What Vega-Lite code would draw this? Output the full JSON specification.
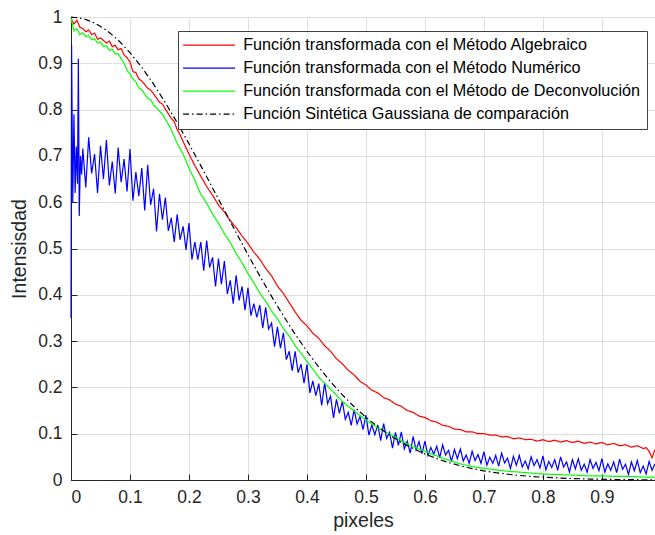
{
  "$schema": "https://vega.github.io/schema/vega-lite/v6.json",
  "width": 584,
  "height": 463,
  "autosize": "none",
  "padding": {"left": 71, "top": 17, "right": 0, "bottom": 55},
  "background": "white",
  "config": {
    "view": {"stroke": null},
    "font": "Liberation Sans",
    "axis": {
      "labelFont": "Liberation Sans",
      "titleFont": "Liberation Sans",
      "labelFontSize": 17.5,
      "titleFontSize": 19.5,
      "titleFontWeight": "normal",
      "labelColor": "#262626",
      "titleColor": "#262626",
      "domainColor": "#262626",
      "domainWidth": 1,
      "tickColor": "#262626",
      "tickSize": -6,
      "gridColor": "#dedede",
      "gridWidth": 1
    },
    "legend": {
      "orient": "none", "legendX": 107, "legendY": 14, "title": null,
      "symbolType": "M-4,0H4", "symbolSize": 169, "symbolStrokeWidth": 1.2, "symbolOffset": 17,
      "labelFont": "Liberation Sans", "labelFontSize": 16.2, "labelColor": "#000000", "labelLimit": 0, "labelOffset": 26,
      "strokeColor": "#404040", "fillColor": "white", "padding": 6, "rowPadding": 6
    }
  },
  "data": {
    "values": [
      {"x":0,"y":0.997,"s":"A"},{"x":0.005,"y":0.985,"s":"A"},{"x":0.01,"y":0.993,"s":"A"},{"x":0.015,"y":0.978,"s":"A"},{"x":0.02,"y":0.975,"s":"A"},{"x":0.025,"y":0.968,"s":"A"},{"x":0.03,"y":0.972,"s":"A"},{"x":0.035,"y":0.962,"s":"A"},{"x":0.04,"y":0.965,"s":"A"},{"x":0.045,"y":0.952,"s":"A"},{"x":0.05,"y":0.955,"s":"A"},{"x":0.06,"y":0.944,"s":"A"},{"x":0.065,"y":0.948,"s":"A"},{"x":0.07,"y":0.936,"s":"A"},{"x":0.075,"y":0.939,"s":"A"},{"x":0.08,"y":0.929,"s":"A"},{"x":0.085,"y":0.932,"s":"A"},{"x":0.09,"y":0.918,"s":"A"},{"x":0.095,"y":0.912,"s":"A"},{"x":0.1,"y":0.903,"s":"A"},{"x":0.105,"y":0.882,"s":"A"},{"x":0.11,"y":0.88,"s":"A"},{"x":0.115,"y":0.866,"s":"A"},{"x":0.12,"y":0.862,"s":"A"},{"x":0.13,"y":0.846,"s":"A"},{"x":0.135,"y":0.842,"s":"A"},{"x":0.14,"y":0.834,"s":"A"},{"x":0.15,"y":0.816,"s":"A"},{"x":0.155,"y":0.812,"s":"A"},{"x":0.16,"y":0.801,"s":"A"},{"x":0.17,"y":0.781,"s":"A"},{"x":0.175,"y":0.774,"s":"A"},{"x":0.18,"y":0.757,"s":"A"},{"x":0.185,"y":0.745,"s":"A"},{"x":0.19,"y":0.731,"s":"A"},{"x":0.2,"y":0.704,"s":"A"},{"x":0.21,"y":0.679,"s":"A"},{"x":0.22,"y":0.656,"s":"A"},{"x":0.23,"y":0.634,"s":"A"},{"x":0.24,"y":0.615,"s":"A"},{"x":0.25,"y":0.594,"s":"A"},{"x":0.26,"y":0.579,"s":"A"},{"x":0.27,"y":0.56,"s":"A"},{"x":0.28,"y":0.545,"s":"A"},{"x":0.29,"y":0.527,"s":"A"},{"x":0.3,"y":0.511,"s":"A"},{"x":0.31,"y":0.492,"s":"A"},{"x":0.32,"y":0.477,"s":"A"},{"x":0.33,"y":0.457,"s":"A"},{"x":0.34,"y":0.441,"s":"A"},{"x":0.35,"y":0.419,"s":"A"},{"x":0.36,"y":0.403,"s":"A"},{"x":0.37,"y":0.383,"s":"A"},{"x":0.38,"y":0.363,"s":"A"},{"x":0.39,"y":0.345,"s":"A"},{"x":0.4,"y":0.333,"s":"A"},{"x":0.41,"y":0.317,"s":"A"},{"x":0.42,"y":0.306,"s":"A"},{"x":0.43,"y":0.29,"s":"A"},{"x":0.44,"y":0.278,"s":"A"},{"x":0.45,"y":0.262,"s":"A"},{"x":0.46,"y":0.251,"s":"A"},{"x":0.47,"y":0.237,"s":"A"},{"x":0.48,"y":0.227,"s":"A"},{"x":0.49,"y":0.213,"s":"A"},{"x":0.5,"y":0.205,"s":"A"},{"x":0.51,"y":0.194,"s":"A"},{"x":0.52,"y":0.188,"s":"A"},{"x":0.53,"y":0.178,"s":"A"},{"x":0.54,"y":0.173,"s":"A"},{"x":0.55,"y":0.164,"s":"A"},{"x":0.56,"y":0.159,"s":"A"},{"x":0.57,"y":0.15,"s":"A"},{"x":0.58,"y":0.146,"s":"A"},{"x":0.59,"y":0.138,"s":"A"},{"x":0.6,"y":0.135,"s":"A"},{"x":0.61,"y":0.128,"s":"A"},{"x":0.62,"y":0.125,"s":"A"},{"x":0.63,"y":0.118,"s":"A"},{"x":0.64,"y":0.116,"s":"A"},{"x":0.65,"y":0.11,"s":"A"},{"x":0.66,"y":0.109,"s":"A"},{"x":0.67,"y":0.104,"s":"A"},{"x":0.68,"y":0.104,"s":"A"},{"x":0.69,"y":0.1,"s":"A"},{"x":0.7,"y":0.1,"s":"A"},{"x":0.71,"y":0.097,"s":"A"},{"x":0.72,"y":0.097,"s":"A"},{"x":0.73,"y":0.093,"s":"A"},{"x":0.74,"y":0.094,"s":"A"},{"x":0.75,"y":0.089,"s":"A"},{"x":0.76,"y":0.091,"s":"A"},{"x":0.77,"y":0.087,"s":"A"},{"x":0.78,"y":0.088,"s":"A"},{"x":0.79,"y":0.084,"s":"A"},{"x":0.8,"y":0.087,"s":"A"},{"x":0.81,"y":0.083,"s":"A"},{"x":0.82,"y":0.086,"s":"A"},{"x":0.83,"y":0.082,"s":"A"},{"x":0.84,"y":0.085,"s":"A"},{"x":0.85,"y":0.081,"s":"A"},{"x":0.86,"y":0.084,"s":"A"},{"x":0.87,"y":0.079,"s":"A"},{"x":0.88,"y":0.082,"s":"A"},{"x":0.89,"y":0.078,"s":"A"},{"x":0.9,"y":0.081,"s":"A"},{"x":0.91,"y":0.076,"s":"A"},{"x":0.92,"y":0.079,"s":"A"},{"x":0.93,"y":0.074,"s":"A"},{"x":0.94,"y":0.076,"s":"A"},{"x":0.95,"y":0.071,"s":"A"},{"x":0.96,"y":0.074,"s":"A"},{"x":0.97,"y":0.068,"s":"A"},{"x":0.975,"y":0.07,"s":"A"},{"x":0.98,"y":0.062,"s":"A"},{"x":0.985,"y":0.048,"s":"A"},{"x":0.99,"y":0.066,"s":"A"},

      {"x":0,"y":0.35,"s":"N"},{"x":0.001,"y":0.94,"s":"N"},{"x":0.003,"y":0.6,"s":"N"},{"x":0.005,"y":0.79,"s":"N"},{"x":0.007,"y":0.62,"s":"N"},{"x":0.009,"y":0.72,"s":"N"},{"x":0.011,"y":0.64,"s":"N"},{"x":0.0125,"y":0.91,"s":"N"},{"x":0.014,"y":0.57,"s":"N"},{"x":0.016,"y":0.7,"s":"N"},{"x":0.018,"y":0.66,"s":"N"},
      {"x":0.02,"y":0.716,"s":"N"},{"x":0.025,"y":0.632,"s":"N"},{"x":0.03,"y":0.74,"s":"N"},{"x":0.035,"y":0.662,"s":"N"},{"x":0.04,"y":0.704,"s":"N"},{"x":0.045,"y":0.62,"s":"N"},{"x":0.05,"y":0.722,"s":"N"},{"x":0.055,"y":0.65,"s":"N"},{"x":0.06,"y":0.734,"s":"N"},{"x":0.065,"y":0.636,"s":"N"},{"x":0.07,"y":0.688,"s":"N"},{"x":0.075,"y":0.619,"s":"N"},{"x":0.08,"y":0.718,"s":"N"},{"x":0.085,"y":0.643,"s":"N"},{"x":0.09,"y":0.693,"s":"N"},{"x":0.095,"y":0.623,"s":"N"},{"x":0.1,"y":0.715,"s":"N"},{"x":0.105,"y":0.603,"s":"N"},{"x":0.11,"y":0.665,"s":"N"},{"x":0.115,"y":0.613,"s":"N"},{"x":0.12,"y":0.674,"s":"N"},{"x":0.125,"y":0.582,"s":"N"},{"x":0.13,"y":0.681,"s":"N"},{"x":0.135,"y":0.594,"s":"N"},{"x":0.14,"y":0.629,"s":"N"},{"x":0.145,"y":0.537,"s":"N"},{"x":0.15,"y":0.618,"s":"N"},{"x":0.155,"y":0.562,"s":"N"},{"x":0.16,"y":0.61,"s":"N"},{"x":0.165,"y":0.538,"s":"N"},{"x":0.17,"y":0.566,"s":"N"},{"x":0.175,"y":0.514,"s":"N"},{"x":0.18,"y":0.574,"s":"N"},{"x":0.185,"y":0.519,"s":"N"},{"x":0.19,"y":0.548,"s":"N"},{"x":0.195,"y":0.497,"s":"N"},{"x":0.2,"y":0.555,"s":"N"},{"x":0.205,"y":0.476,"s":"N"},{"x":0.21,"y":0.514,"s":"N"},{"x":0.215,"y":0.476,"s":"N"},{"x":0.22,"y":0.514,"s":"N"},{"x":0.225,"y":0.452,"s":"N"},{"x":0.23,"y":0.517,"s":"N"},{"x":0.235,"y":0.459,"s":"N"},{"x":0.24,"y":0.481,"s":"N"},{"x":0.245,"y":0.418,"s":"N"},{"x":0.25,"y":0.478,"s":"N"},{"x":0.255,"y":0.423,"s":"N"},{"x":0.26,"y":0.473,"s":"N"},{"x":0.265,"y":0.402,"s":"N"},{"x":0.27,"y":0.431,"s":"N"},{"x":0.275,"y":0.381,"s":"N"},{"x":0.28,"y":0.442,"s":"N"},{"x":0.285,"y":0.388,"s":"N"},{"x":0.29,"y":0.418,"s":"N"},{"x":0.295,"y":0.367,"s":"N"},{"x":0.3,"y":0.415,"s":"N"},{"x":0.305,"y":0.355,"s":"N"},{"x":0.31,"y":0.381,"s":"N"},{"x":0.315,"y":0.351,"s":"N"},{"x":0.32,"y":0.378,"s":"N"},{"x":0.325,"y":0.328,"s":"N"},{"x":0.33,"y":0.373,"s":"N"},{"x":0.335,"y":0.326,"s":"N"},{"x":0.34,"y":0.339,"s":"N"},{"x":0.345,"y":0.288,"s":"N"},{"x":0.35,"y":0.331,"s":"N"},{"x":0.355,"y":0.285,"s":"N"},{"x":0.36,"y":0.318,"s":"N"},{"x":0.365,"y":0.26,"s":"N"},{"x":0.37,"y":0.278,"s":"N"},{"x":0.375,"y":0.236,"s":"N"},{"x":0.38,"y":0.278,"s":"N"},{"x":0.385,"y":0.232,"s":"N"},{"x":0.39,"y":0.25,"s":"N"},{"x":0.395,"y":0.209,"s":"N"},{"x":0.4,"y":0.25,"s":"N"},{"x":0.405,"y":0.188,"s":"N"},{"x":0.41,"y":0.214,"s":"N"},{"x":0.415,"y":0.182,"s":"N"},{"x":0.42,"y":0.208,"s":"N"},{"x":0.425,"y":0.161,"s":"N"},{"x":0.43,"y":0.21,"s":"N"},{"x":0.435,"y":0.165,"s":"N"},{"x":0.44,"y":0.181,"s":"N"},{"x":0.445,"y":0.134,"s":"N"},{"x":0.45,"y":0.174,"s":"N"},{"x":0.455,"y":0.144,"s":"N"},{"x":0.46,"y":0.17,"s":"N"},{"x":0.465,"y":0.131,"s":"N"},{"x":0.47,"y":0.146,"s":"N"},{"x":0.475,"y":0.118,"s":"N"},{"x":0.48,"y":0.152,"s":"N"},{"x":0.485,"y":0.121,"s":"N"},{"x":0.49,"y":0.137,"s":"N"},{"x":0.495,"y":0.109,"s":"N"},{"x":0.5,"y":0.14,"s":"N"},{"x":0.505,"y":0.097,"s":"N"},{"x":0.51,"y":0.119,"s":"N"},{"x":0.515,"y":0.098,"s":"N"},{"x":0.52,"y":0.119,"s":"N"},{"x":0.525,"y":0.085,"s":"N"},{"x":0.53,"y":0.122,"s":"N"},{"x":0.535,"y":0.09,"s":"N"},{"x":0.54,"y":0.103,"s":"N"},{"x":0.545,"y":0.069,"s":"N"},{"x":0.55,"y":0.103,"s":"N"},{"x":0.555,"y":0.075,"s":"N"},{"x":0.56,"y":0.104,"s":"N"},{"x":0.565,"y":0.067,"s":"N"},{"x":0.57,"y":0.084,"s":"N"},{"x":0.575,"y":0.058,"s":"N"},{"x":0.58,"y":0.094,"s":"N"},{"x":0.585,"y":0.065,"s":"N"},{"x":0.59,"y":0.083,"s":"N"},{"x":0.595,"y":0.057,"s":"N"},{"x":0.6,"y":0.084,"s":"N"},{"x":0.605,"y":0.053,"s":"N"},{"x":0.61,"y":0.07,"s":"N"},{"x":0.615,"y":0.056,"s":"N"},{"x":0.62,"y":0.073,"s":"N"},{"x":0.625,"y":0.048,"s":"N"},{"x":0.63,"y":0.076,"s":"N"},{"x":0.635,"y":0.054,"s":"N"},{"x":0.64,"y":0.064,"s":"N"},{"x":0.645,"y":0.04,"s":"N"},{"x":0.65,"y":0.066,"s":"N"},{"x":0.655,"y":0.046,"s":"N"},{"x":0.66,"y":0.067,"s":"N"},{"x":0.665,"y":0.041,"s":"N"},{"x":0.67,"y":0.054,"s":"N"},{"x":0.675,"y":0.036,"s":"N"},{"x":0.68,"y":0.062,"s":"N"},{"x":0.685,"y":0.042,"s":"N"},{"x":0.69,"y":0.055,"s":"N"},{"x":0.695,"y":0.036,"s":"N"},{"x":0.7,"y":0.061,"s":"N"},{"x":0.705,"y":0.032,"s":"N"},{"x":0.71,"y":0.049,"s":"N"},{"x":0.715,"y":0.036,"s":"N"},{"x":0.72,"y":0.053,"s":"N"},{"x":0.725,"y":0.03,"s":"N"},{"x":0.73,"y":0.058,"s":"N"},{"x":0.735,"y":0.037,"s":"N"},{"x":0.74,"y":0.047,"s":"N"},{"x":0.745,"y":0.025,"s":"N"},{"x":0.75,"y":0.051,"s":"N"},{"x":0.755,"y":0.032,"s":"N"},{"x":0.76,"y":0.053,"s":"N"},{"x":0.765,"y":0.028,"s":"N"},{"x":0.77,"y":0.041,"s":"N"},{"x":0.775,"y":0.024,"s":"N"},{"x":0.78,"y":0.05,"s":"N"},{"x":0.785,"y":0.031,"s":"N"},{"x":0.79,"y":0.044,"s":"N"},{"x":0.795,"y":0.026,"s":"N"},{"x":0.8,"y":0.052,"s":"N"},{"x":0.805,"y":0.022,"s":"N"},{"x":0.81,"y":0.04,"s":"N"},{"x":0.815,"y":0.027,"s":"N"},{"x":0.82,"y":0.044,"s":"N"},{"x":0.825,"y":0.021,"s":"N"},{"x":0.83,"y":0.05,"s":"N"},{"x":0.835,"y":0.028,"s":"N"},{"x":0.84,"y":0.039,"s":"N"},{"x":0.845,"y":0.017,"s":"N"},{"x":0.85,"y":0.044,"s":"N"},{"x":0.855,"y":0.024,"s":"N"},{"x":0.86,"y":0.046,"s":"N"},{"x":0.865,"y":0.021,"s":"N"},{"x":0.87,"y":0.034,"s":"N"},{"x":0.875,"y":0.017,"s":"N"},{"x":0.88,"y":0.044,"s":"N"},{"x":0.885,"y":0.025,"s":"N"},{"x":0.89,"y":0.038,"s":"N"},{"x":0.895,"y":0.02,"s":"N"},{"x":0.9,"y":0.046,"s":"N"},{"x":0.905,"y":0.017,"s":"N"},{"x":0.91,"y":0.035,"s":"N"},{"x":0.915,"y":0.021,"s":"N"},{"x":0.92,"y":0.039,"s":"N"},{"x":0.925,"y":0.016,"s":"N"},{"x":0.93,"y":0.045,"s":"N"},{"x":0.935,"y":0.023,"s":"N"},{"x":0.94,"y":0.034,"s":"N"},{"x":0.945,"y":0.012,"s":"N"},{"x":0.95,"y":0.039,"s":"N"},{"x":0.955,"y":0.02,"s":"N"},{"x":0.96,"y":0.042,"s":"N"},{"x":0.965,"y":0.016,"s":"N"},{"x":0.97,"y":0.03,"s":"N"},{"x":0.975,"y":0.013,"s":"N"},{"x":0.98,"y":0.04,"s":"N"},{"x":0.985,"y":0.021,"s":"N"},{"x":0.99,"y":0.035,"s":"N"},

      {"x":0,"y":0.998,"s":"D"},{"x":0.005,"y":0.97,"s":"D"},{"x":0.01,"y":0.975,"s":"D"},{"x":0.015,"y":0.962,"s":"D"},{"x":0.02,"y":0.966,"s":"D"},{"x":0.025,"y":0.958,"s":"D"},{"x":0.03,"y":0.96,"s":"D"},{"x":0.035,"y":0.951,"s":"D"},{"x":0.04,"y":0.953,"s":"D"},{"x":0.045,"y":0.944,"s":"D"},{"x":0.05,"y":0.946,"s":"D"},{"x":0.055,"y":0.936,"s":"D"},{"x":0.06,"y":0.938,"s":"D"},{"x":0.065,"y":0.928,"s":"D"},{"x":0.07,"y":0.93,"s":"D"},{"x":0.075,"y":0.92,"s":"D"},{"x":0.08,"y":0.921,"s":"D"},{"x":0.085,"y":0.91,"s":"D"},{"x":0.09,"y":0.9,"s":"D"},{"x":0.095,"y":0.885,"s":"D"},{"x":0.1,"y":0.877,"s":"D"},{"x":0.105,"y":0.866,"s":"D"},{"x":0.11,"y":0.86,"s":"D"},{"x":0.115,"y":0.847,"s":"D"},{"x":0.12,"y":0.843,"s":"D"},{"x":0.13,"y":0.824,"s":"D"},{"x":0.135,"y":0.822,"s":"D"},{"x":0.14,"y":0.81,"s":"D"},{"x":0.15,"y":0.797,"s":"D"},{"x":0.155,"y":0.79,"s":"D"},{"x":0.16,"y":0.779,"s":"D"},{"x":0.17,"y":0.757,"s":"D"},{"x":0.18,"y":0.727,"s":"D"},{"x":0.19,"y":0.704,"s":"D"},{"x":0.2,"y":0.674,"s":"D"},{"x":0.21,"y":0.647,"s":"D"},{"x":0.22,"y":0.617,"s":"D"},{"x":0.23,"y":0.598,"s":"D"},{"x":0.24,"y":0.574,"s":"D"},{"x":0.25,"y":0.555,"s":"D"},{"x":0.26,"y":0.532,"s":"D"},{"x":0.27,"y":0.513,"s":"D"},{"x":0.28,"y":0.489,"s":"D"},{"x":0.29,"y":0.469,"s":"D"},{"x":0.3,"y":0.446,"s":"D"},{"x":0.31,"y":0.426,"s":"D"},{"x":0.32,"y":0.404,"s":"D"},{"x":0.33,"y":0.386,"s":"D"},{"x":0.34,"y":0.365,"s":"D"},{"x":0.35,"y":0.348,"s":"D"},{"x":0.36,"y":0.327,"s":"D"},{"x":0.37,"y":0.311,"s":"D"},{"x":0.38,"y":0.29,"s":"D"},{"x":0.39,"y":0.274,"s":"D"},{"x":0.4,"y":0.256,"s":"D"},{"x":0.41,"y":0.239,"s":"D"},{"x":0.42,"y":0.222,"s":"D"},{"x":0.43,"y":0.209,"s":"D"},{"x":0.44,"y":0.196,"s":"D"},{"x":0.45,"y":0.183,"s":"D"},{"x":0.46,"y":0.17,"s":"D"},{"x":0.47,"y":0.159,"s":"D"},{"x":0.48,"y":0.149,"s":"D"},{"x":0.49,"y":0.139,"s":"D"},{"x":0.5,"y":0.13,"s":"D"},{"x":0.51,"y":0.121,"s":"D"},{"x":0.52,"y":0.113,"s":"D"},{"x":0.53,"y":0.106,"s":"D"},{"x":0.54,"y":0.099,"s":"D"},{"x":0.55,"y":0.092,"s":"D"},{"x":0.56,"y":0.085,"s":"D"},{"x":0.57,"y":0.078,"s":"D"},{"x":0.58,"y":0.072,"s":"D"},{"x":0.59,"y":0.067,"s":"D"},{"x":0.6,"y":0.062,"s":"D"},{"x":0.61,"y":0.057,"s":"D"},{"x":0.62,"y":0.052,"s":"D"},{"x":0.63,"y":0.047,"s":"D"},{"x":0.64,"y":0.043,"s":"D"},{"x":0.65,"y":0.039,"s":"D"},{"x":0.66,"y":0.035,"s":"D"},{"x":0.67,"y":0.032,"s":"D"},{"x":0.68,"y":0.029,"s":"D"},{"x":0.69,"y":0.027,"s":"D"},{"x":0.7,"y":0.025,"s":"D"},{"x":0.72,"y":0.022,"s":"D"},{"x":0.74,"y":0.019,"s":"D"},{"x":0.76,"y":0.017,"s":"D"},{"x":0.78,"y":0.015,"s":"D"},{"x":0.8,"y":0.013,"s":"D"},{"x":0.82,"y":0.012,"s":"D"},{"x":0.84,"y":0.011,"s":"D"},{"x":0.86,"y":0.01,"s":"D"},{"x":0.88,"y":0.009,"s":"D"},{"x":0.9,"y":0.009,"s":"D"},{"x":0.92,"y":0.008,"s":"D"},{"x":0.94,"y":0.008,"s":"D"},{"x":0.96,"y":0.007,"s":"D"},{"x":0.98,"y":0.006,"s":"D"},{"x":0.99,"y":0.006,"s":"D"},

      {"x":0,"y":1,"s":"G"},{"x":0.02,"y":0.9968,"s":"G"},{"x":0.04,"y":0.9873,"s":"G"},{"x":0.06,"y":0.9716,"s":"G"},{"x":0.08,"y":0.9501,"s":"G"},{"x":0.1,"y":0.9231,"s":"G"},{"x":0.12,"y":0.8912,"s":"G"},{"x":0.14,"y":0.8549,"s":"G"},{"x":0.16,"y":0.8148,"s":"G"},{"x":0.18,"y":0.7717,"s":"G"},{"x":0.2,"y":0.7261,"s":"G"},{"x":0.22,"y":0.679,"s":"G"},{"x":0.24,"y":0.6308,"s":"G"},{"x":0.26,"y":0.5823,"s":"G"},{"x":0.28,"y":0.5341,"s":"G"},{"x":0.3,"y":0.4868,"s":"G"},{"x":0.32,"y":0.4408,"s":"G"},{"x":0.34,"y":0.3966,"s":"G"},{"x":0.36,"y":0.3546,"s":"G"},{"x":0.38,"y":0.315,"s":"G"},{"x":0.4,"y":0.278,"s":"G"},{"x":0.42,"y":0.2439,"s":"G"},{"x":0.44,"y":0.2125,"s":"G"},{"x":0.46,"y":0.184,"s":"G"},{"x":0.48,"y":0.1583,"s":"G"},{"x":0.5,"y":0.1353,"s":"G"},{"x":0.52,"y":0.115,"s":"G"},{"x":0.54,"y":0.097,"s":"G"},{"x":0.56,"y":0.0814,"s":"G"},{"x":0.58,"y":0.0678,"s":"G"},{"x":0.6,"y":0.0561,"s":"G"},{"x":0.62,"y":0.0462,"s":"G"},{"x":0.64,"y":0.0377,"s":"G"},{"x":0.66,"y":0.0307,"s":"G"},{"x":0.68,"y":0.0247,"s":"G"},{"x":0.7,"y":0.0198,"s":"G"},{"x":0.72,"y":0.0158,"s":"G"},{"x":0.74,"y":0.0125,"s":"G"},{"x":0.76,"y":0.0098,"s":"G"},{"x":0.78,"y":0.0077,"s":"G"},{"x":0.8,"y":0.006,"s":"G"},{"x":0.84,"y":0.0035,"s":"G"},{"x":0.88,"y":0.002,"s":"G"},{"x":0.92,"y":0.0011,"s":"G"},{"x":0.96,"y":0.0006,"s":"G"},{"x":0.99,"y":0.0004,"s":"G"}
    ]
  },
  "mark": {"type": "line", "strokeWidth": 1.2, "clip": false},
  "encoding": {
    "x": {
      "field": "x", "type": "quantitative",
      "scale": {"domain": [0, 0.99], "nice": false, "zero": false},
      "axis": {"values": [0, 0.1, 0.2, 0.3, 0.4, 0.5, 0.6, 0.7, 0.8, 0.9], "format": "~g", "title": "pixeles", "labelPadding": 14, "titlePadding": 6, "grid": true}
    },
    "y": {
      "field": "y", "type": "quantitative",
      "scale": {"domain": [0, 1], "nice": false},
      "axis": {"values": [0, 0.1, 0.2, 0.3, 0.4, 0.5, 0.6, 0.7, 0.8, 0.9, 1], "format": "~g", "title": "Intensisdad", "labelPadding": 15, "titlePadding": 8, "grid": true}
    },
    "color": {
      "field": "s", "type": "nominal",
      "scale": {"domain": ["A", "N", "D", "G"], "range": ["#ff0000", "#0000ff", "#00ff00", "#000000"]},
      "legend": {
        "labelExpr": "datum.label == 'A' ? 'Función transformada con el Método Algebraico' : datum.label == 'N' ? 'Función transformada con el Método Numérico' : datum.label == 'D' ? 'Función transformada con el Método de Deconvolución' : 'Función Sintética Gaussiana de comparación'"
      }
    },
    "strokeDash": {
      "field": "s", "type": "nominal",
      "scale": {"domain": ["A", "N", "D", "G"], "range": [[1, 0], [1, 0], [1, 0], [6, 3, 1.5, 3]]},
      "legend": {
        "labelExpr": "datum.label == 'A' ? 'Función transformada con el Método Algebraico' : datum.label == 'N' ? 'Función transformada con el Método Numérico' : datum.label == 'D' ? 'Función transformada con el Método de Deconvolución' : 'Función Sintética Gaussiana de comparación'"
      }
    }
  }
}
